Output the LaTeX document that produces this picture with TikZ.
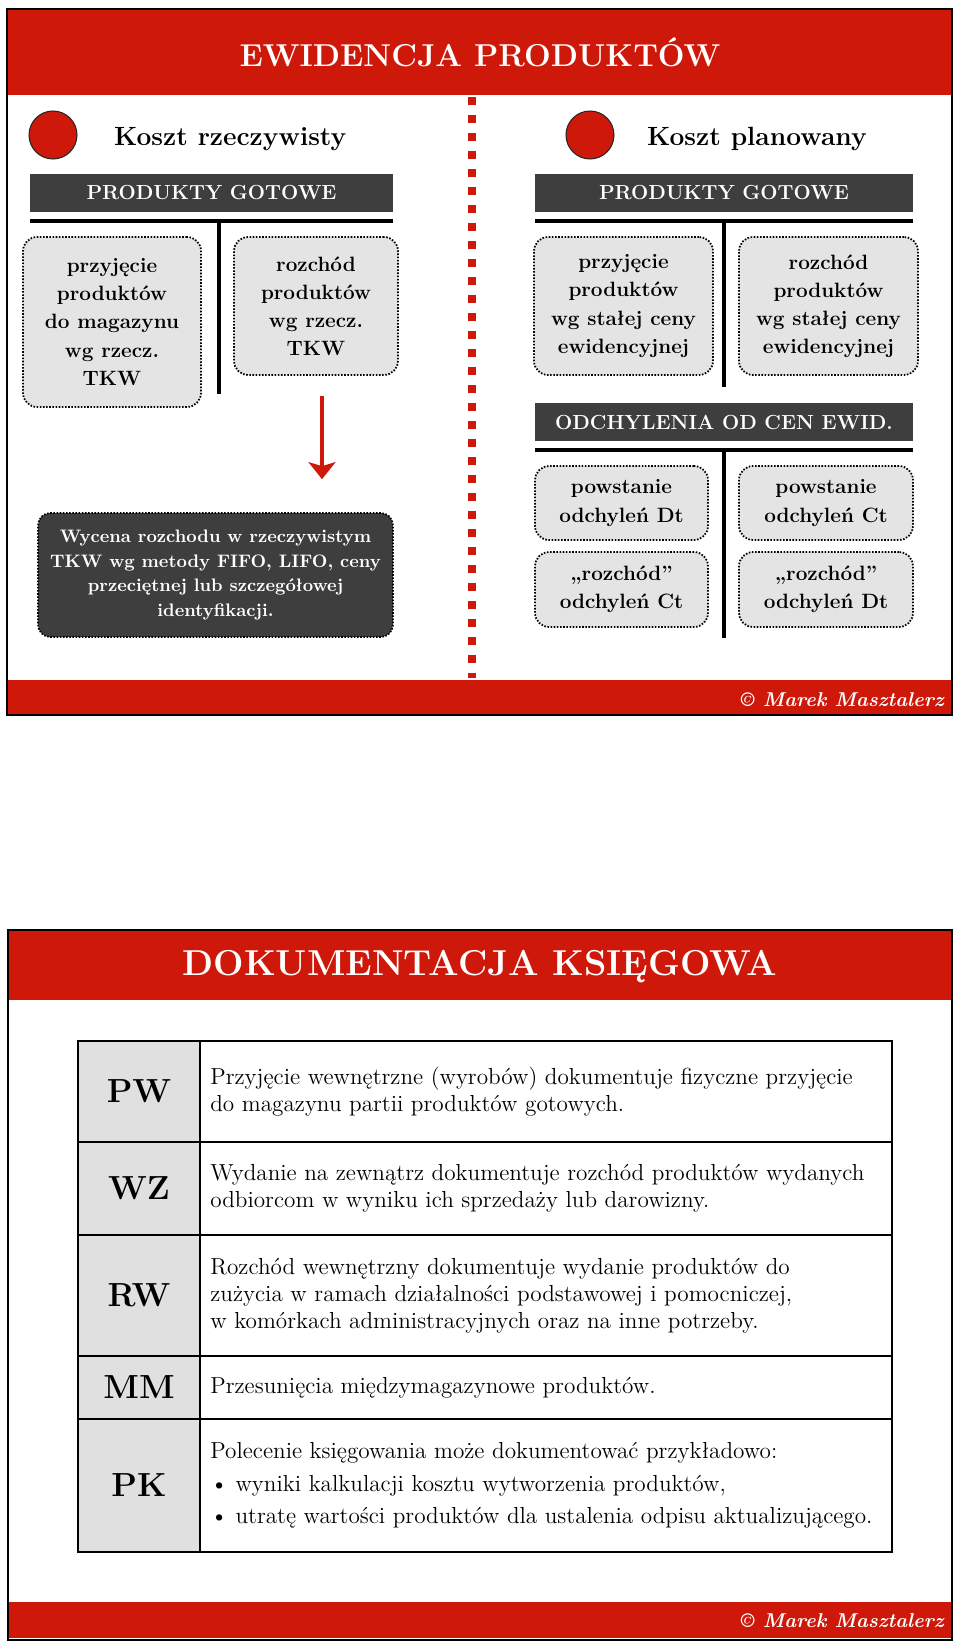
\documentclass[tikz,border=0pt]{standalone}
\usepackage{fontspec}
\usetikzlibrary{arrows.meta}
\definecolor{slidered}{RGB}{206,24,10}
\definecolor{bardark}{RGB}{62,62,62}
\definecolor{boxgray}{RGB}{228,228,228}
\definecolor{cellgray}{RGB}{224,224,224}
\tikzset{> = {Stealth[width=0.54cm,length=0.34cm,inset=0.08cm]}}
\tikzset{
  frame/.style={draw=black, line width=1.4pt},
  reddash/.style={draw=slidered, line width=0.16cm, dash pattern=on 0.16cm off 0.2cm},
  title/.style={text=white, font=\bfseries\fontsize{18pt}{22pt}\selectfont},
  reddot/.style={circle, fill=slidered, draw=black!85, line width=0.6pt, minimum size=0.96cm, inner sep=0pt},
  heading/.style={font=\bfseries\fontsize{15pt}{17pt}\selectfont},
  bar/.style={fill=bardark, text=white, minimum height=0.76cm, inner sep=0pt, font=\bfseries\fontsize{11.6pt}{14pt}\selectfont},
  pbox/.style={fill=boxgray, draw=black, line width=1pt, dash pattern=on 0.9pt off 0.9pt, rounded corners=8pt, align=center, inner sep=0pt, font=\bfseries\fontsize{11.8pt}{16pt}\selectfont},
  darkbox/.style={pbox, fill=bardark, text=white, rounded corners=7pt, font=\bfseries\fontsize{10.3pt}{14pt}\selectfont},
  tline/.style={line width=2.3pt},
  redarr/.style={->, draw=slidered, line width=1.8pt},
  footer/.style={text=white, inner sep=0pt, font=\bfseries\itshape\fontsize{11.4pt}{14pt}\selectfont},
  tabline/.style={line width=1.1pt},
  code/.style={font=\bfseries\fontsize{19pt}{22pt}\selectfont},
  desc/.style={anchor=west, align=left, inner sep=0pt, font=\fontsize{13.2pt}{15.4pt}\selectfont}
}
\begin{document}
\begin{tikzpicture}[x=0.02cm, y=-0.02cm]
\useasboundingbox (0,0) rectangle (960,1646);

% --- slide 1: ewidencja
\fill[slidered] (7,9) rectangle (952,95);
\fill[slidered] (7,680) rectangle (952,715);
\draw[frame] (7,9) rectangle (952,715);
\node[title] (tytul1) at (480,52) {EWIDENCJA PRODUKTÓW};
\draw[reddash] (472,97) -- (472,678);

% koszt rzeczywisty
\node[reddot] (kolkoL) at (53,135) {};
\node[heading, anchor=base west] (rzecz) at (108,146) {Koszt rzeczywisty};
\node[bar, minimum width=7.26cm] (gotoweL) at (211.5,193) {PRODUKTY GOTOWE};
\draw[tline] (30,221) -- (393,221) (219,221) -- (219,394);
\node[pbox, minimum width=3.56cm, minimum height=3.4cm] (przL) at (112,322)
  {przyjęcie\\produktów\\do magazynu\\wg rzecz.\\TKW};
\node[pbox, minimum width=3.28cm, minimum height=2.76cm] (rozL) at (316,306)
  {rozchód\\produktów\\wg rzecz.\\TKW};
\node[darkbox, minimum width=7.1cm, minimum height=2.48cm] (wycena) at (215.5,575)
  {Wycena rozchodu w rzeczywistym\\TKW wg metody FIFO, LIFO, ceny\\przeciętnej lub szczegółowej\\identyfikacji.};
\draw[redarr] ([xshift=0.12cm,yshift=-0.4cm]rozL.south) -- ([xshift=0.12cm,yshift=0.66cm]rozL.south |- wycena.north);

% koszt planowany
\node[reddot] (kolkoP) at (590,135) {};
\node[heading, anchor=base west] (plan) at (641,146) {Koszt planowany};
\node[bar, minimum width=7.56cm] (gotoweP) at (724,193) {PRODUKTY GOTOWE};
\draw[tline] (535,221) -- (913,221) (724,221) -- (724,387);
\node[pbox, minimum width=3.58cm, minimum height=2.76cm] (przP) at (623.5,306)
  {przyjęcie\\produktów\\wg stałej ceny\\ewidencyjnej};
\node[pbox, minimum width=3.58cm, minimum height=2.76cm] (rozP) at (828.5,306)
  {rozchód\\produktów\\wg stałej ceny\\ewidencyjnej};
\node[bar, minimum width=7.56cm] (odchyl) at (724,422) {ODCHYLENIA OD CEN EWID.};
\draw[tline] (535,450) -- (913,450) (724,450) -- (724,638);
\node[pbox, minimum width=3.46cm, minimum height=1.48cm] (powDt) at (621.5,503) {powstanie\\odchyleń Dt};
\node[pbox, minimum width=3.48cm, minimum height=1.48cm] (powCt) at (826,503) {powstanie\\odchyleń Ct};
\node[pbox, minimum width=3.46cm, minimum height=1.5cm] (rozCt) at (621.5,589.5) {„rozchód”\\odchyleń Ct};
\node[pbox, minimum width=3.48cm, minimum height=1.5cm] (rozDt) at (826,589.5) {„rozchód”\\odchyleń Dt};
\node[footer, anchor=base east] (autor1) at (944,706) {© Marek Masztalerz};

% --- slide 2: dokumentacja
\fill[slidered] (8,930) rectangle (952,1000);
\fill[slidered] (8,1602) rectangle (952,1638);
\draw[frame] (8,930) rectangle (952,1640);
\node[title, font=\bfseries\fontsize{20.5pt}{26pt}\selectfont] (tytul2) at (480,967) {DOKUMENTACJA KSIĘGOWA};

\fill[cellgray] (78,1041) rectangle (200,1552);
\draw[tabline] (78,1041) rectangle (892,1552) (200,1041) -- (200,1552);
\foreach \y in {1142,1235,1356,1419}
  \draw[tabline] (78,\y) -- (892,\y);

\node[code] (pw) at (139,1091.5) {PW};
\node[code] (wz) at (139,1188.5) {WZ};
\node[code] (rw) at (139,1295.5) {RW};
\node[code] (mm) at (139,1387.5) {MM};
\node[code] (pk) at (139,1485.5) {PK};

\node[desc] (pwOpis) at (210,1091.5)
  {Przyjęcie wewnętrzne (wyrobów) dokumentuje fizyczne przyjęcie\\do magazynu partii produktów gotowych.};
\node[desc] (wzOpis) at (210,1188.5)
  {Wydanie na zewnątrz dokumentuje rozchód produktów wydanych\\odbiorcom w wyniku ich sprzedaży lub darowizny.};
\node[desc] (rwOpis) at (210,1295.5)
  {Rozchód wewnętrzny dokumentuje wydanie produktów do\\zużycia w ramach działalności podstawowej i pomocniczej,\\w komórkach administracyjnych oraz na inne potrzeby.};
\node[desc] (mmOpis) at (210,1387.5)
  {Przesunięcia międzymagazynowe produktów.};
\node[desc] (pkOpis) at (210,1485.5)
  {Polecenie księgowania może dokumentować przykładowo:\\[3pt]\textbullet\ wyniki kalkulacji kosztu wytworzenia produktów,\\[3pt]\textbullet\ utratę wartości produktów dla ustalenia odpisu aktualizującego.};
\node[footer, anchor=base east] (autor2) at (944,1627) {© Marek Masztalerz};
\end{tikzpicture}
\end{document}
